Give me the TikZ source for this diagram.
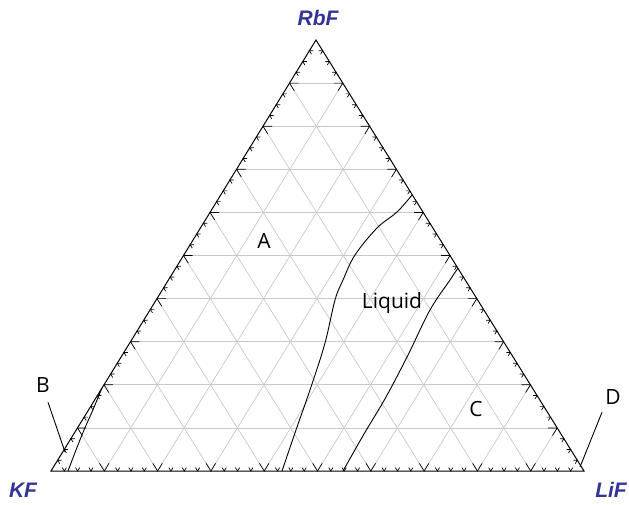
\documentclass[tikz,border=0pt]{standalone}
\usepackage{fontspec}
\setmainfont{Open Sans}
\newfontfamily\compfont{Liberation Sans}
\usetikzlibrary{calc}

\definecolor{compblue}{RGB}{52,52,150}
\definecolor{gridgray}{RGB}{200,200,208}

\begin{document}
\begin{tikzpicture}[x=1pt,y=-1pt,
  edge/.style={line width=1pt,black},
  gridline/.style={line width=0.7pt,gridgray},
  tick/.style={line width=0.7pt,black},
  curve/.style={line width=0.9pt,black},
  comp/.style={font=\compfont\bfseries\itshape\fontsize{21}{21}\selectfont,text=compblue,inner sep=0pt},
  region/.style={font=\fontsize{21}{21}\selectfont,inner sep=0pt},
  pointer/.style={line width=0.9pt,black}]

  \useasboundingbox (0,0) rectangle (629,504);

  % corners of the triangle
  \coordinate (top) at (316,40);
  \coordinate (kfc) at (51,471);
  \coordinate (lic) at (584,471);

  % grid, 10 steps
  \foreach \i in {1,...,9} {
    \draw[gridline] ($(kfc)!\i/10!(top)$) -- ($(lic)!\i/10!(top)$);
    \draw[gridline] ($(kfc)!\i/10!(lic)$) -- ($(top)!\i/10!(lic)$);
    \draw[gridline] ($(kfc)!\i/10!(lic)$) -- ($(kfc)!\i/10!(top)$);
  }

  % ticks on the three sides, 40 steps
  \foreach \k in {1,...,39} {
    \pgfmathsetmacro{\tpos}{\k/40}
    \pgfmathtruncatemacro{\m}{mod(\k,4)}
    \ifnum\m=0 \def\ticklen{9pt}\else\def\ticklen{4pt}\fi
    % bottom side
    \coordinate (p) at ($(kfc)!\tpos!(lic)$);
    \coordinate (qa) at ($(kfc)!\tpos!(top)$);
    \coordinate (qb) at ($(top)!\tpos!(lic)$);
    \draw[tick] ($(p)!\ticklen!(qa)$) -- (p) -- ($(p)!\ticklen!(qb)$);
    % left side
    \coordinate (p) at ($(kfc)!\tpos!(top)$);
    \coordinate (qa) at ($(lic)!\tpos!(top)$);
    \coordinate (qb) at ($(kfc)!\tpos!(lic)$);
    \draw[tick] ($(p)!\ticklen!(qa)$) -- (p) -- ($(p)!\ticklen!(qb)$);
    % right side
    \coordinate (p) at ($(lic)!\tpos!(top)$);
    \coordinate (qa) at ($(kfc)!\tpos!(top)$);
    \coordinate (qb) at ($(lic)!\tpos!(kfc)$);
    \draw[tick] ($(p)!\ticklen!(qa)$) -- (p) -- ($(p)!\ticklen!(qb)$);
  }

  % outline
  \draw[edge] (kfc) -- (lic) -- (top) -- cycle;

  % boundary curves
  \draw[curve] plot[smooth,tension=0.6] coordinates {(68,471) (76,450) (84,430) (92,412) (102,388)};
  \draw[curve] plot[smooth,tension=0.6] coordinates {(282,471) (296,430) (311,387) (325,343)
    (335,300) (343,280) (355,255) (377,228) (397,212) (412,195)};
  \draw[curve] plot[smooth,tension=0.6] coordinates {(343,471) (364,434) (386,397)
    (408,355) (430,310) (450,280) (458,268)};

  % corner labels
  \node[comp,anchor=base] (rbf) at (318,25) {RbF};
  \node[comp,anchor=base] (kf) at (23,497) {KF};
  \node[comp,anchor=base] (lif) at (611,497) {LiF};

  % field labels
  \node[region,anchor=base] (lblA) at (264,248) {A};
  \node[region,anchor=base] (liquid) at (392,308) {Liquid};
  \node[region,anchor=base] (lblC) at (476,416) {C};
  \node[region,anchor=base] (lblB) at (43,392) {B};
  \node[region,anchor=base] (lblD) at (613,404) {D};

  % pointers
  \coordinate (bend) at (65,452);
  \coordinate (dend) at (580,467);
  \draw[pointer] ([xshift=5pt,yshift=-10pt]lblB.south) -- (bend);
  \draw[pointer] ([xshift=-11pt,yshift=-8pt]lblD.south) -- (dend);

\end{tikzpicture}
\end{document}
